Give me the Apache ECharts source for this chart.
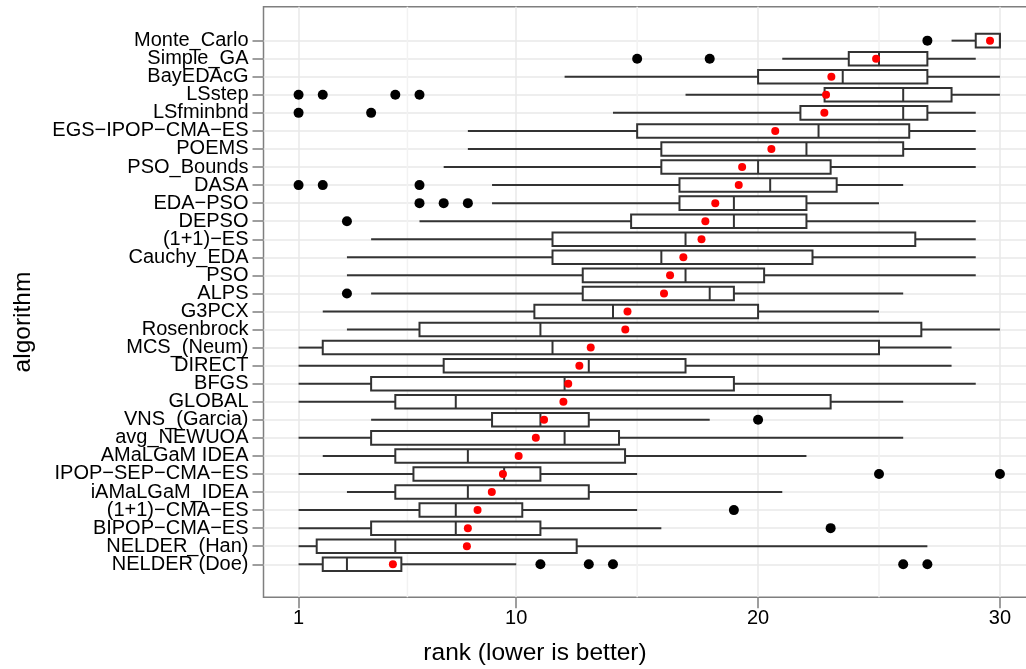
<!DOCTYPE html>
<html>
<head>
<meta charset="utf-8">
<script src="https://cdn.jsdelivr.net/npm/echarts@6/dist/echarts.min.js"></script>
<style>
  html, body { margin: 0; padding: 0; background: #fff; }
  #chart { width: 1026px; height: 669px; }
</style>
</head>
<body>
<div id="chart"></div>
<script>
// rows listed from the bottom of the chart (index 0) to the top
const categories = [
  "NELDER (Doe)", "NELDER_(Han)", "BIPOP\u2212CMA\u2212ES", "(1+1)\u2212CMA\u2212ES", "iAMaLGaM_IDEA",
  "IPOP\u2212SEP\u2212CMA\u2212ES", "AMaLGaM IDEA", "avg_NEWUOA", "VNS_(Garcia)", "GLOBAL",
  "BFGS", "DIRECT", "MCS_(Neum)", "Rosenbrock", "G3PCX",
  "ALPS", "PSO", "Cauchy_EDA", "(1+1)\u2212ES", "DEPSO",
  "EDA\u2212PSO", "DASA", "PSO_Bounds", "POEMS", "EGS\u2212IPOP\u2212CMA\u2212ES",
  "LSfminbnd", "LSstep", "BayEDAcG", "Simple_GA", "Monte_Carlo"
];
const whiskerLow = [1, 1, 1, 1, 3, 1, 2, 1, 4, 1, 1, 1, 1, 3, 2, 4, 3, 3, 4, 6, 9, 9, 7, 8, 8, 14, 17, 12, 21, 28];
const q1 = [2, 1.75, 4, 6, 5, 5.75, 5, 4, 9, 5, 4, 7, 2, 6, 10.75, 12.75, 12.75, 11.5, 11.5, 14.75, 16.75, 16.75, 16, 16, 15, 21.75, 22.75, 20, 23.75, 29];
const medians = [3, 5, 7.5, 7.5, 8, 9.5, 8, 12, 11, 7.5, 12, 13, 11.5, 11, 14, 18, 17, 16, 17, 19, 19, 20.5, 20, 22, 22.5, 26, 26, 23.5, 25, 30];
const q3 = [5.25, 12.5, 11, 10.25, 13, 11, 14.5, 14.25, 13, 23, 19, 17, 25, 26.75, 20, 19, 20.25, 22.25, 26.5, 22, 22, 23.25, 23, 26, 26.25, 27, 28, 27, 27, 30];
const whiskerHigh = [10, 27, 16, 15, 21, 15, 22, 26, 18, 26, 29, 28, 28, 30, 25, 26, 29, 29, 29, 29, 25, 26, 29, 29, 29, 29, 30, 30, 29, 30];
const means = [4.9, 7.96, 8.0, 8.4, 8.99, 9.45, 10.1, 10.81, 11.15, 11.95, 12.15, 12.61, 13.08, 14.51, 14.6, 16.11, 16.36, 16.91, 17.66, 17.82, 18.23, 19.2, 19.34, 20.55, 20.71, 22.74, 22.81, 23.03, 24.88, 29.59];
const outliers = [
  [11, 13, 14, 26, 27], [], [23], [19], [], [25, 30], [], [], [20], [],
  [], [], [], [], [], [3], [], [], [], [3],
  [6, 7, 8], [1, 2, 6], [], [], [], [1, 4], [1, 2, 5, 6], [], [15, 18], [27]
];
const xTicks = [1, 10, 20, 30];
const xMinorBreaks = [5.5, 15, 25];

const FONT = "'Liberation Sans', Arial, Helvetica, sans-serif";
const Y_MIN = -1.83, Y_MAX = 30.88;

const chart = echarts.init(document.getElementById("chart"), null, { renderer: "canvas" });

const boxData = categories.map((c, i) => [i, whiskerLow[i], q1[i], medians[i], q3[i], whiskerHigh[i]]);
const outlierData = [];
outliers.forEach((vals, i) => vals.forEach(v => outlierData.push([v, i])));
const meanData = means.map((m, i) => [m, i]);
const rowIndices = categories.map((c, i) => i);
// blank labels at the axis ends so every category label is kept
const labelValues = [Y_MIN].concat(rowIndices, [Y_MAX]);

function renderBox(params, api) {
  const row = api.value(0);
  const lo = api.coord([api.value(1), row]);
  const a = api.coord([api.value(2), row]);
  const m = api.coord([api.value(3), row]);
  const b = api.coord([api.value(4), row]);
  const hi = api.coord([api.value(5), row]);
  const h = api.size([0, 0.75])[1];
  const stroke = { stroke: "#333333", lineWidth: 2, fill: null };
  return {
    type: "group",
    children: [
      { type: "line", shape: { x1: lo[0], y1: lo[1], x2: a[0], y2: a[1] }, style: stroke },
      { type: "line", shape: { x1: b[0], y1: b[1], x2: hi[0], y2: hi[1] }, style: stroke },
      { type: "rect", shape: { x: a[0], y: a[1] - h / 2, width: b[0] - a[0], height: h },
        style: { fill: "#ffffff", stroke: "#333333", lineWidth: 2 } },
      { type: "line", shape: { x1: m[0], y1: m[1] - h / 2, x2: m[0], y2: m[1] + h / 2 }, style: stroke }
    ]
  };
}

// light minor grid lines between the major x breaks
function renderMinorGrid(params, api) {
  const v = api.value(0);
  const top = api.coord([v, Y_MAX]);
  const bottom = api.coord([v, Y_MIN]);
  return {
    type: "line",
    shape: { x1: top[0], y1: top[1], x2: bottom[0], y2: bottom[1] },
    style: { stroke: "#f2f2f2", lineWidth: 1.5 }
  };
}

const option = {
  animation: false,
  backgroundColor: "#ffffff",
  textStyle: { fontFamily: FONT },
  grid: {
    left: 263.5, top: 6.7, right: -9, bottom: 71.7,
    outerBoundsMode: "none",
    show: true, borderColor: "#7f7f7f", borderWidth: 1.5, backgroundColor: "transparent"
  },
  xAxis: {
    type: "value",
    min: -0.45,
    max: 31.45,
    axisLine: { show: false, onZero: false },
    axisTick: { show: true, length: 11, customValues: xTicks, lineStyle: { color: "#7f7f7f", width: 1.5 } },
    axisLabel: { customValues: xTicks, color: "#000", fontSize: 20, fontFamily: FONT, margin: 11 },
    splitLine: { show: true, lineStyle: { color: "#e8e8e8", width: 1.5 } }
  },
  yAxis: {
    type: "value",
    min: Y_MIN,
    max: Y_MAX,
    axisLine: { show: false, onZero: false },
    axisTick: { show: true, length: 11, customValues: rowIndices, lineStyle: { color: "#7f7f7f", width: 1.5 } },
    axisLabel: {
      customValues: labelValues, color: "#000", fontSize: 20, fontFamily: FONT, margin: 15,
      showMinLabel: false, showMaxLabel: false, hideOverlap: false,
      formatter: v => categories[Math.round(v)] || ""
    },
    splitLine: { show: true, lineStyle: { color: "#e8e8e8", width: 1.5 } }
  },
  graphic: [
    { type: "text", x: 535, y: 653,
      style: { text: "rank (lower is better)", font: "24.5px " + FONT, fill: "#000", align: "center", verticalAlign: "middle" } },
    { type: "text", x: 23, y: 322, rotation: Math.PI / 2,
      style: { text: "algorithm", font: "24.5px " + FONT, fill: "#000", align: "center", verticalAlign: "middle" } }
  ],
  series: [
    { type: "custom", name: "minor", z: 1, silent: true, data: xMinorBreaks.map(v => [v]),
      renderItem: renderMinorGrid, encode: { x: 0 } },
    { type: "custom", name: "box", z: 2, silent: true, data: boxData,
      renderItem: renderBox, encode: { x: [1, 2, 3, 4, 5], y: 0 } },
    { type: "scatter", name: "outliers", z: 3, silent: true, data: outlierData,
      symbol: "circle", symbolSize: 10, itemStyle: { color: "#000000", opacity: 1 } },
    { type: "scatter", name: "mean", z: 4, silent: true, data: meanData,
      symbol: "circle", symbolSize: 8, itemStyle: { color: "#ff0000", opacity: 1 } }
  ]
};

chart.setOption(option);
</script>
</body>
</html>
